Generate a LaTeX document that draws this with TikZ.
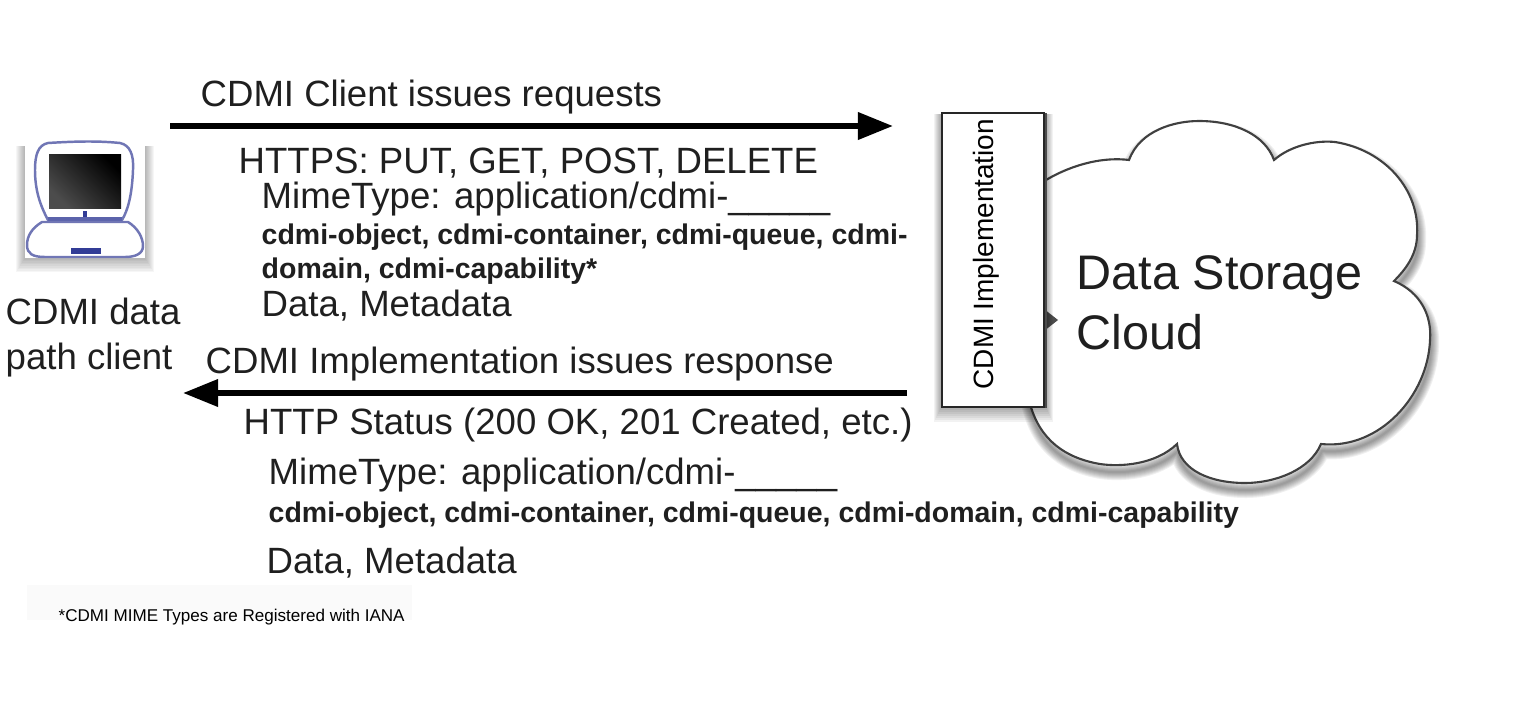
\documentclass[tikz,border=0pt]{standalone}
\usepackage{fontspec}
\setmainfont{Liberation Sans}
\usetikzlibrary{arrows.meta}
\usetikzlibrary{positioning}

\definecolor{labelgray}{gray}{0.12}
\definecolor{laptopblue}{RGB}{50,60,150}

\tikzset{
  lbl/.style={anchor=base west, inner sep=0pt, text=labelgray, font=\fontsize{10.4}{12}\selectfont},
  lblbold/.style={lbl, font=\fontsize{8.1}{9}\selectfont\bfseries},
  lblcloud/.style={lbl, font=\fontsize{13.8}{16}\selectfont},
  flow/.style={line width=1.7pt, black, -{Triangle[length=10pt, width=7.5pt]}},
  laptopline/.style={draw=laptopblue!70, line width=0.7pt, fill=white}
}

\newcommand{\cloudoutline}{
  (1046,180) .. controls (1075,163) and (1105,157) .. (1129,160)
  .. controls (1140,130) and (1175,121) .. (1199,121)
  .. controls (1235,121) and (1265,135) .. (1274,160)
  .. controls (1290,146) and (1315,140) .. (1335,142)
  .. controls (1385,150) and (1420,190) .. (1417,235)
  .. controls (1417,255) and (1405,270) .. (1394,281)
  .. controls (1420,292) and (1432,315) .. (1430,340)
  .. controls (1428,395) and (1380,450) .. (1321,444)
  .. controls (1310,470) and (1275,483) .. (1245,483)
  .. controls (1210,483) and (1180,470) .. (1177,444)
  .. controls (1155,465) and (1120,467) .. (1100,464)
  .. controls (1065,458) and (1040,440) .. (1030,404)
  -- (1000,300) -- cycle
}

\begin{document}
\begin{tikzpicture}[x=0.01cm, y=-0.01cm]
  \useasboundingbox (0,0) rectangle (1513,721);

  % laptop picture
  \foreach \w in {2,4,...,18} {
    \fill [black, opacity=0.035] (25-\w/2,146) rectangle (145+\w/2,258+\w*0.8);
  }
  \fill [white] (25,140) rectangle (145,258);
  \draw [laptopline] (48,143) .. controls (80,141) and (100,141) .. (120,143)
    .. controls (130,145) and (134,155) .. (133,170)
    .. controls (132,195) and (128,210) .. (122,220) -- (48,220)
    .. controls (40,205) and (35,190) .. (35,170)
    .. controls (35,155) and (38,145) .. cycle;
  \fill [laptopblue!80] (48,217) rectangle (122,221);
  \shade [left color=black!70, right color=black, shading angle=135] (49,154) rectangle (121,208);
  \fill [laptopblue] (83,211) rectangle (87,217);
  \draw [laptopline] (42,222) -- (128,222) .. controls (138,228) and (143,238) .. (143,246)
    .. controls (143,254) and (135,257) .. (125,257) -- (45,257)
    .. controls (33,257) and (27,254) .. (27,245)
    .. controls (27,236) and (32,228) .. cycle;
  \fill [laptopblue] (71,248) rectangle (101,254);

  % cloud with its shadow
  \foreach \w in {2,4,...,16} {
    \begin{scope}[yshift=-0.07cm, xshift=0.01cm]
      \draw [black, opacity=0.06, line width=\w*0.2845pt, line join=round] \cloudoutline;
    \end{scope}
  }
  \draw [black!75, fill=white, line width=0.6pt] \cloudoutline;
  \node [lblcloud] (storage) at (1076,289) {Data Storage};
  \node [lblcloud] (cloud) at (1076,349) {Cloud};

  % box on the cloud edge
  \fill [black!70] (1044,309) -- (1058,320) -- (1044,331) -- cycle;
  \foreach \w in {2,4,...,14} {
    \fill [black, opacity=0.05] (941-\w/2,114) rectangle (1046+\w/2,408+\w);
  }
  \fill [white] (941,112) rectangle (1046,407);
  \draw [black!70, line width=0.5pt] (1046,113) -- (1046,407) -- (1043,407);
  \node [draw=black!85, fill=white, line width=0.6pt, minimum width=1.02cm, minimum height=2.94cm,
         inner sep=0pt, anchor=north west] (impl) at (941,112) {};
  \node [lbl, text=black, rotate=90, font=\fontsize{7.95}{9}\selectfont] (impllabel) at (993,390) {CDMI Implementation};

  % requests
  \coordinate (reqstart) at (170,126);
  \coordinate (reqend) at (893,126);
  \draw [flow] (reqstart) -- (reqend);
  \node [lbl] (reqtitle) at (200,106) {CDMI Client issues requests};
  \node [lbl] (reqverbs) at (238,173) {HTTPS: PUT, GET, POST, DELETE};
  \node [lbl] (reqmime) at (261,208) {MimeType: application/cdmi-\_\_\_\_\_};
  \node [lblbold] (reqtypes) at (261,244) {cdmi-object, cdmi-container, cdmi-queue, cdmi-};
  \node [lblbold] (reqtypesb) at (261,278) {domain, cdmi-capability*};
  \node [lbl] (reqdata) at (261,316) {Data, Metadata};

  % client
  \node [lbl] (clienta) at (5,324) {CDMI data};
  \node [lbl] (clientb) at (5,369) {path client};

  % response
  \coordinate (respstart) at (907,393);
  \coordinate (respend) at (183,393);
  \draw [flow] (respstart) -- (respend);
  \node [lbl] (resptitle) at (205,373) {CDMI Implementation issues response};
  \node [lbl] (respstatus) at (243,434) {HTTP Status (200 OK, 201 Created, etc.)};
  \node [lbl] (respmime) at (268,484) {MimeType: application/cdmi-\_\_\_\_\_};
  \node [lblbold] (resptypes) at (268,522) {cdmi-object, cdmi-container, cdmi-queue, cdmi-domain, cdmi-capability};
  \node [lbl] (respdata) at (266,573) {Data, Metadata};

  % footnote
  \fill [black!2] (27,585) rectangle (412,620);
  \node [lbl, text=black, font=\fontsize{4.85}{6}\selectfont] (footnote) at (58,621) {*CDMI MIME Types are Registered with IANA};
\end{tikzpicture}
\end{document}
